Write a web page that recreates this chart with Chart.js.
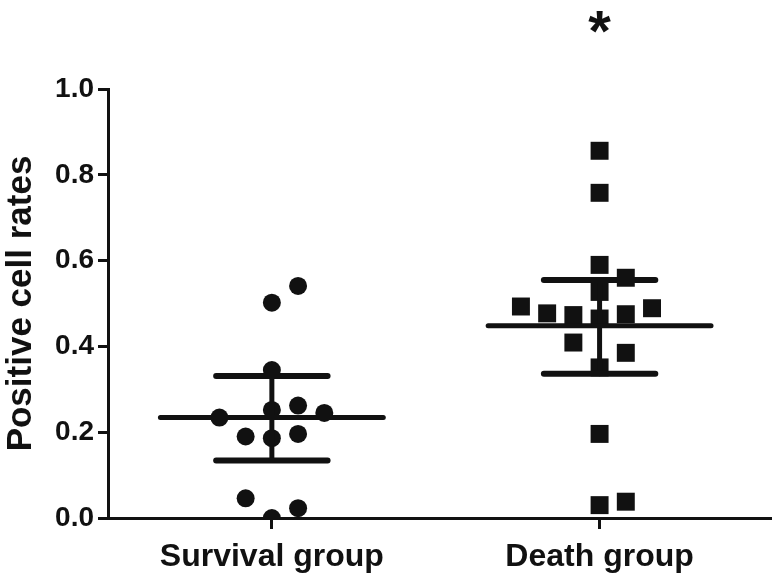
<!DOCTYPE html>
<html>
<head>
<meta charset="utf-8">
<script src="https://cdn.jsdelivr.net/npm/chart.js@4"></script>
<style>
html, body { margin: 0; padding: 0; background: #fff; }
</style>
</head>
<body>
<canvas id="dotChart" width="784" height="577"></canvas>
<script>
// groups and read-off values
const groups = ['Survival group', 'Death group'];
const significance = ['', '*'];

const survivalJitter = [0.08, 0, 0, 0.08, -0.16, 0, 0.16, -0.08, 0, 0.08, -0.08, 0.08, 0];
const survivalRates = [0.541, 0.502, 0.345, 0.262, 0.234, 0.252, 0.245, 0.190, 0.186, 0.196, 0.046, 0.023, 0.0];

const deathJitter = [0, 0, 0, 0.08, 0, -0.24, -0.16, -0.08, 0, 0.08, 0.16, -0.08, 0.08, 0, 0, 0, 0.08];
const deathRates = [0.856, 0.758, 0.590, 0.560, 0.527, 0.493, 0.477, 0.473, 0.465, 0.475, 0.489, 0.409, 0.385, 0.351, 0.196, 0.030, 0.038];

const groupMeans = [0.234, 0.448];
const groupUpper = [0.331, 0.555];
const groupLower = [0.134, 0.336];

const yTicks = [0, 0.2, 0.4, 0.6, 0.8, 1.0];

const FONT = '"Liberation Sans", Arial, Helvetica, sans-serif';
const INK = '#111';
const meanHalf = 0.34;
const capHalf = 0.17;

function toPoints(center, jitter, values) {
  return values.map((v, i) => ({ x: center + jitter[i], y: v }));
}

function segment(x1, y1, x2, y2, width) {
  return {
    type: 'scatter',
    data: [{ x: x1, y: y1 }, { x: x2, y: y2 }],
    showLine: true,
    borderColor: INK,
    borderWidth: width,
    borderCapStyle: 'round',
    pointRadius: 0,
    order: 0
  };
}

const barSets = [];
groups.forEach((g, i) => {
  barSets.push(segment(i - meanHalf, groupMeans[i], i + meanHalf, groupMeans[i], 5));
  barSets.push(segment(i - capHalf, groupUpper[i], i + capHalf, groupUpper[i], 6));
  barSets.push(segment(i - capHalf, groupLower[i], i + capHalf, groupLower[i], 6));
  barSets.push(segment(i, groupLower[i], i, groupUpper[i], 5));
});

const starPlugin = {
  id: 'stars',
  afterDraw(chart) {
    const { ctx, scales: { x } } = chart;
    ctx.save();
    ctx.font = 'bold 58px ' + FONT;
    ctx.fillStyle = INK;
    ctx.textAlign = 'center';
    ctx.textBaseline = 'top';
    significance.forEach((s, i) => {
      if (s) ctx.fillText(s, x.getPixelForValue(i), 6);
    });
    ctx.restore();
  }
};

const ctx = document.getElementById('dotChart').getContext('2d');
const dotChart = new Chart(ctx, {
  type: 'scatter',
  data: {
    datasets: [
      {
        label: groups[0],
        data: toPoints(0, survivalJitter, survivalRates),
        pointStyle: 'circle',
        pointRadius: 9,
        pointHoverRadius: 9,
        backgroundColor: INK,
        borderColor: INK,
        borderWidth: 0,
        order: 1
      },
      {
        label: groups[1],
        data: toPoints(1, deathJitter, deathRates),
        pointStyle: 'rect',
        pointRadius: 12.7,
        pointHoverRadius: 12.7,
        backgroundColor: INK,
        borderColor: INK,
        borderWidth: 0,
        order: 1
      },
      ...barSets
    ]
  },
  options: {
    responsive: false,
    animation: false,
    devicePixelRatio: 1,
    layout: { padding: { top: 89, right: 14, left: 0, bottom: 0 } },
    plugins: {
      legend: { display: false },
      tooltip: { enabled: false }
    },
    scales: {
      x: {
        type: 'linear',
        min: -0.5,
        max: 1.52,
        afterBuildTicks: axis => { axis.ticks = groups.map((g, i) => ({ value: i })); },
        afterFit: axis => { axis.height = 59; },
        border: { display: true, color: INK, width: 3 },
        grid: { drawOnChartArea: false, drawTicks: true, tickLength: 11, lineWidth: 3, color: INK },
        ticks: {
          color: INK,
          padding: 9,
          maxRotation: 0,
          autoSkip: false,
          font: { family: FONT, size: 32, weight: 'bold' },
          callback: v => groups[v]
        }
      },
      y: {
        min: 0,
        max: 1.0,
        afterBuildTicks: axis => { axis.ticks = yTicks.map(v => ({ value: v })); },
        afterFit: axis => { axis.width = 108; },
        border: { display: true, color: INK, width: 3 },
        grid: { drawOnChartArea: false, drawTicks: true, tickLength: 10, lineWidth: 3, color: INK },
        ticks: {
          color: INK,
          padding: 4,
          font: { family: FONT, size: 28, weight: 'bold' },
          callback: v => v.toFixed(1)
        },
        title: {
          display: true,
          text: 'Positive cell rates',
          color: INK,
          padding: 0,
          font: { family: FONT, size: 35, weight: 'bold' }
        }
      }
    }
  },
  plugins: [starPlugin]
});
</script>
</body>
</html>
